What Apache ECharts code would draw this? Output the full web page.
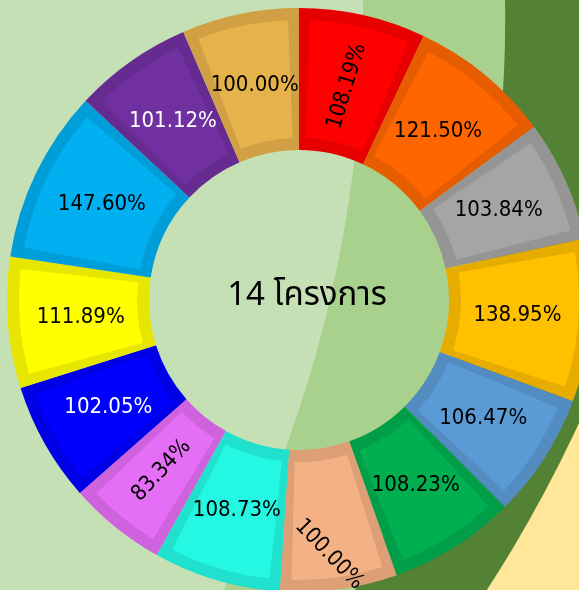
<!DOCTYPE html>
<html>
<head>
<meta charset="utf-8">
<script src="https://cdn.jsdelivr.net/npm/echarts@6/dist/echarts.min.js"></script>
<style>
html,body{margin:0;padding:0;background:#FFE699;}
#c{width:579px;height:590px;}
</style>
</head>
<body>
<div id="c"></div>
<script>
// ---- data ----
const projects = ['โครงการ 1','โครงการ 2','โครงการ 3','โครงการ 4','โครงการ 5','โครงการ 6','โครงการ 7',
                  'โครงการ 8','โครงการ 9','โครงการ 10','โครงการ 11','โครงการ 12','โครงการ 13','โครงการ 14'];
const values = [108.19, 121.50, 103.84, 138.95, 106.47, 108.23, 100.00,
                108.73, 83.34, 102.05, 111.89, 147.60, 101.12, 100.00];
const centerText = '14 โครงการ';

// ---- styles ----
const fillColors   = ['#FF0000','#FF6600','#A5A5A5','#FFC000','#5B9BD5','#00B050','#F4B183',
                      '#24F8E3','#E56EF6','#0000FF','#FFFF00','#00B0F0','#7030A0','#E6B24B'];
const borderColors = ['#E60000','#E65C00','#959595','#E6AD00','#528CC0','#009E48','#DC9F76',
                      '#20E0CE','#CF63DE','#0000E6','#E6E600','#009ED8','#652B90','#D1A044'];
const labelColors  = ['#000','#000','#000','#000','#000','#000','#000',
                      '#000','#000','#FFF','#000','#000','#FFF','#000'];
const labelRotations = [73,0,0,0,0,0,-46,0,47,0,0,0,0,0];

const chart = echarts.init(document.getElementById('c'), null, {renderer:'canvas'});

const outerData = values.map((v,i)=>({
  name: projects[i], value: v,
  itemStyle: {color: borderColors[i]}
}));
const innerData = values.map((v,i)=>({
  name: projects[i], value: v,
  itemStyle: {color: fillColors[i]}
}));
const labelData = values.map((v,i)=>({
  name: projects[i], value: v,
  itemStyle: {color: 'rgba(0,0,0,0)'},
  label: {color: labelColors[i], rotate: labelRotations[i]}
}));

const option = {
  backgroundColor: '#FFE699',
  animation: false,
  graphic: {
    elements: [
      {type:'circle', z: 1, silent: true, shape:{cx:-604.7, cy:-121.3, r:1302.8}, style:{fill:'#548235'}},
      {type:'circle', z: 2, silent: true, shape:{cx:-651.7, cy:20, r:1156.9}, style:{fill:'#A9D18E'}},
      {type:'circle', z: 3, silent: true, shape:{cx:-902.5, cy:12.3, r:1265.5}, style:{fill:'#C5E0B4'}},
      {type:'text', z: 20, silent: true, x: 307, y: 298,
        style:{text: centerText, fill:'#000', fontSize: 33,
          fontFamily: "'Noto Sans Thai','Noto Sans Thai UI',Tahoma,'DejaVu Sans',sans-serif",
          align:'center', verticalAlign:'middle'}}
    ]
  },
  series: [
    {
      type: 'pie', z: 10, silent: true,
      center: [299, 300], radius: [150, 292],
      startAngle: 90, clockwise: true,
      label: {show: false}, labelLine: {show: false},
      data: outerData
    },
    {
      type: 'pie', z: 11, silent: true,
      center: [299, 300], radius: [162, 280],
      startAngle: 90, clockwise: true, padAngle: 4.5,
      label: {show: false}, labelLine: {show: false},
      data: innerData
    },
    {
      type: 'pie', z: 12, silent: true,
      center: [299, 300], radius: [150, 282],
      startAngle: 90, clockwise: true,
      avoidLabelOverlap: false,
      label: {
        show: true, position: 'inside',
        fontSize: 22,
        fontFamily: "'DejaVu Sans Condensed','DejaVu Sans',sans-serif",
        formatter: p => p.value.toFixed(2) + '%'
      },
      labelLine: {show: false},
      labelLayout: function (p) {
        if (p.dataIndex === 6) { return {dx: 27, dy: 26}; }
      },
      data: labelData
    }
  ]
};
chart.setOption(option);
</script>
</body>
</html>
